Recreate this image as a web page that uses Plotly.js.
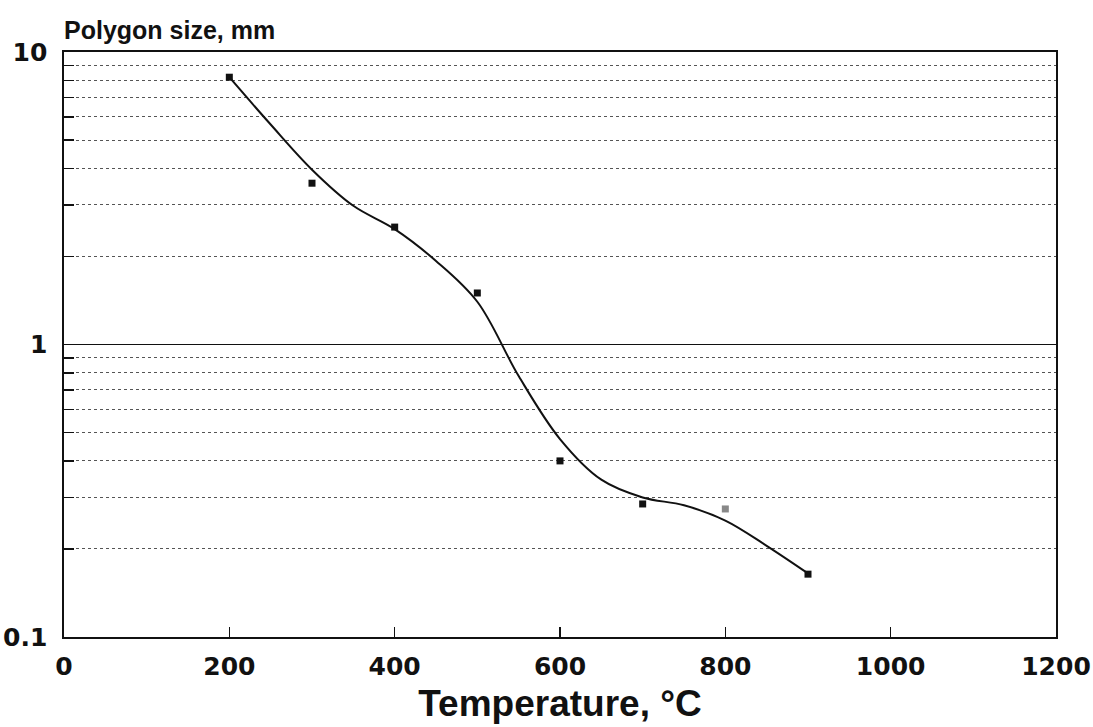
<!DOCTYPE html>
<html>
<head>
<meta charset="utf-8">
<script src="https://cdn.plot.ly/plotly-3.0.1.min.js"></script>
<style>
html,body{margin:0;padding:0;background:#fff;}
#chart{width:1093px;height:727px;}
</style>
</head>
<body>
<div id="chart"></div>
<script>
// Measured points
const tempC = [200, 300, 400, 500, 600, 700, 800, 900];
const polygonSize = [8.2, 3.56, 2.52, 1.50, 0.40, 0.285, 0.274, 0.164];
const pointColors = ['#111', '#111', '#111', '#111', '#111', '#111', '#888', '#111'];

// Fitted curve
const curveX = [200, 250, 300, 350, 400, 450, 500, 550, 600, 650, 700, 750, 800, 850, 900];
const curveY = [8.2, 5.65, 3.96, 2.98, 2.48, 1.93, 1.40, 0.78, 0.475, 0.345, 0.30, 0.282, 0.25, 0.205, 0.165];

// Axis ticks
const xTicks = [0, 200, 400, 600, 800, 1000, 1200];
const yTicks = [0.1, 1, 10];
const yTickText = ['0.1', '1', '10'];
const yMinor = [0.2, 0.3, 0.4, 0.5, 0.6, 0.7, 0.8, 0.9, 2, 3, 4, 5, 6, 7, 8, 9];

const font = 'Liberation Sans, Arial, sans-serif';
const tickFont = 'DejaVu Sans, Liberation Sans, sans-serif';

const traces = [
  {
    x: curveX, y: curveY, type: 'scatter', mode: 'lines',
    line: {color: '#111', width: 2, shape: 'spline', smoothing: 1},
    hoverinfo: 'skip', showlegend: false
  },
  {
    x: tempC, y: polygonSize, type: 'scatter', mode: 'markers',
    marker: {symbol: 'square', size: 7, color: pointColors},
    showlegend: false
  }
];

const layout = {
  width: 1093, height: 727,
  paper_bgcolor: '#fff', plot_bgcolor: '#fff',
  margin: {l: 64, r: 37, t: 52, b: 90},
  font: {family: font, color: '#111'},
  title: {
    text: '<b>Polygon size, mm</b>',
    font: {family: font, size: 25, color: '#111'},
    xref: 'paper', x: 0, xanchor: 'left',
    yref: 'container', y: 1 - 30/727, yanchor: 'middle'
  },
  xaxis: {
    range: [0, 1200], tickvals: xTicks,
    ticks: 'inside', ticklen: 10, tickwidth: 1.2, tickcolor: '#111',
    showline: true, linecolor: '#111', linewidth: 1.6, mirror: true,
    showgrid: false, zeroline: false,
    tickfont: {family: tickFont, size: 25, color: '#111', weight: 'bold'},
    ticklabelstandoff: 6,
    title: {text: '<b>Temperature, °C</b>', font: {family: font, size: 37, color: '#111'}, standoff: 10}
  },
  yaxis: {
    type: 'log', range: [-1, 1],
    tickvals: yTicks, ticktext: yTickText,
    ticks: '', showline: true, linecolor: '#111', linewidth: 1.6, mirror: true,
    showgrid: true, gridcolor: '#111', gridwidth: 1.4,
    zeroline: false,
    tickfont: {family: tickFont, size: 25, color: '#111', weight: 'bold'},
    ticklabelstandoff: 10,
    minor: {
      tickvals: yMinor, ticks: 'inside', ticklen: 10, tickwidth: 1.5, tickcolor: '#111',
      showgrid: true, gridcolor: '#555', gridwidth: 1, griddash: 'dot'
    }
  }
};

Plotly.newPlot('chart', traces, layout, {staticPlot: true, displayModeBar: false});
</script>
</body>
</html>
